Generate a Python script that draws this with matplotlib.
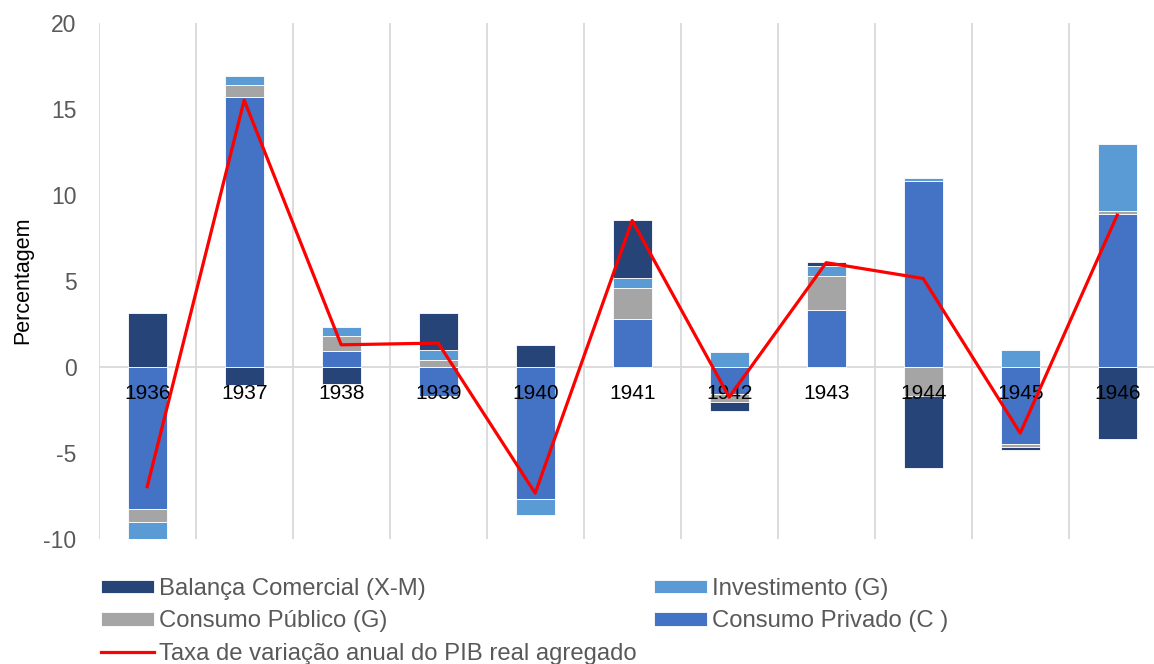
import matplotlib.pyplot as plt
import numpy as np

plt.rcParams['font.family'] = ['Liberation Sans', 'DejaVu Sans']
plt.rcParams['axes.unicode_minus'] = False

years = ['1936', '1937', '1938', '1939', '1940', '1941', '1942', '1943', '1944', '1945', '1946']
balanca = [3.1, -1.05, -0.99, 2.1, 1.29, 3.37, -0.54, 0.24, -4.16, -0.14, -4.18]
investimento = [-1.07, 0.49, 0.54, 0.58, -0.9, 0.6, 0.84, 0.58, 0.17, 0.96, 3.94]
publico = [-0.73, 0.73, 0.87, 0.42, 0.0, 1.77, -0.49, 1.93, -1.7, -0.21, 0.13]
privado = [-8.26, 15.66, 0.93, -1.72, -7.7, 2.78, -1.56, 3.33, 10.8, -4.47, 8.9]
pib = [-6.96, 15.49, 1.28, 1.38, -7.34, 8.5, -1.76, 6.05, 5.13, -3.85, 8.81]

series = [
    ('Consumo Privado (C )', privado, '#4472C4'),
    ('Consumo Público (G)', publico, '#A5A5A5'),
    ('Investimento (G)', investimento, '#5B9BD5'),
    ('Balança Comercial (X-M)', balanca, '#264478'),
]

fig = plt.figure(figsize=(11.54, 6.64), dpi=100)
ax = fig.add_axes([98.7 / 1154, 125 / 664, 1067 / 1154, 516.5 / 664])

x = np.arange(len(years))
pos_bottom = np.zeros(len(years))
neg_bottom = np.zeros(len(years))
handles = {}
for name, vals, color in series:
    vals = np.array(vals)
    bottom = np.where(vals >= 0, pos_bottom, neg_bottom)
    b = ax.bar(x, vals, 0.4, bottom=bottom, color=color, edgecolor='white',
               linewidth=0.6, label=name, zorder=2)
    handles[name] = b
    pos_bottom += np.where(vals >= 0, vals, 0)
    neg_bottom += np.where(vals < 0, vals, 0)

line, = ax.plot(x, pib, color='#FF0000', linewidth=2.3, zorder=4,
                label='Taxa de variação anual do PIB real agregado')

ax.axhline(0, color='#D9D9D9', linewidth=1.3, zorder=1)

ax.set_xlim(-0.5, 10.5)
ax.set_ylim(-10, 20)
ax.set_yticks(range(-10, 21, 5))
ax.set_xticks(x, labels=years)
ax.set_xticks(np.arange(-0.5, 11, 1), minor=True)
ax.grid(which='minor', axis='x', color='#D9D9D9', linewidth=1.3, zorder=0)
ax.set_axisbelow(False)
ax.xaxis.set_zorder(3)

for s in ax.spines.values():
    s.set_visible(False)
ax.spines['bottom'].set_position(('data', 0))

ax.tick_params(axis='x', which='both', length=0, pad=12, labelsize=15, labelcolor='black')
ax.tick_params(axis='y', length=0, pad=16, labelsize=16.5, labelcolor='#595959')

ax.set_ylabel('Percentagem', fontsize=15.5, color='black', labelpad=7)

hl = [handles['Balança Comercial (X-M)'], handles['Consumo Público (G)'], line,
      handles['Investimento (G)'], handles['Consumo Privado (C )']]
lbl = ['Balança Comercial (X-M)', 'Consumo Público (G)', 'Taxa de variação anual do PIB real agregado',
       'Investimento (G)', 'Consumo Privado (C )']
leg = fig.legend(hl, lbl, ncol=2, loc='upper left', bbox_to_anchor=(101 / 1154, 1 - 578 / 664),
                 frameon=False, fontsize=17.2, handlelength=2.2, handleheight=0.5,
                 handletextpad=0.22, columnspacing=0.75, labelspacing=0.43, borderpad=0,
                 borderaxespad=0)
for t in leg.get_texts():
    t.set_color('#595959')

plt.savefig('out.png', dpi=100)
